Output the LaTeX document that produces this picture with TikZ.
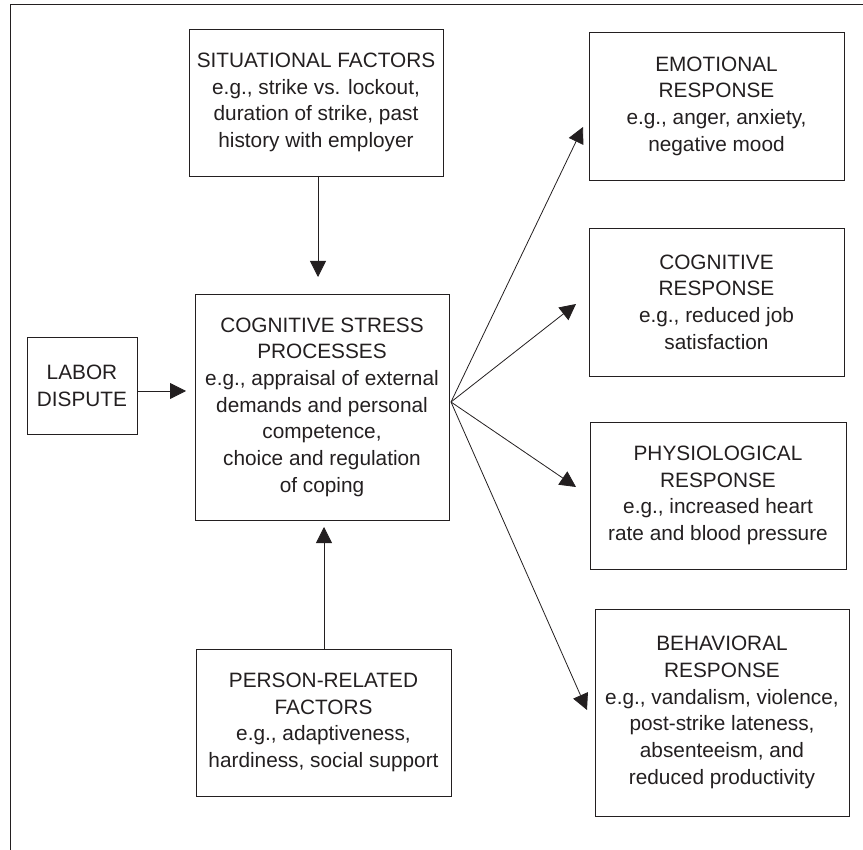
\documentclass[tikz,border=0pt]{standalone}
\usepackage{fontspec}
\setmainfont{Liberation Sans}
\usetikzlibrary{arrows.meta}
\definecolor{ink}{HTML}{231F20}
\tikzset{
  box/.style={draw=ink, line width=0.9pt, inner sep=0pt, align=center, text=ink,
    font=\fontsize{20.8}{26.7}\selectfont},
  arr/.style={draw=ink, line width=0.8pt, -{Triangle[length=16pt,width=16pt]}},
  frame/.style={draw=ink, line width=1pt}
}
\begin{document}
\begin{tikzpicture}[x=1pt,y=-1pt]
\useasboundingbox (0,0) rectangle (863,850);
% outer frame (top and left edges)
\coordinate (ftr) at (863,5);
\coordinate (ftl) at (10,5);
\coordinate (fbl) at (10,850);
\draw[frame] (ftr) -- (ftl) -- (fbl);

\node[box, minimum width=254, minimum height=147] (sit) at (316,102.5)
  {SITUATIONAL FACTORS\\e.g., strike vs. lockout,\\duration of strike, past\\history with employer};
\node[box, minimum width=110, minimum height=97] (labor) at (82,385.5)
  {LABOR\\DISPUTE};
\node[box, minimum width=254, minimum height=226] (csp) at (322,407)
  {COGNITIVE STRESS\\PROCESSES\\e.g., appraisal of external\\demands and personal\\competence,\\choice and regulation\\of coping};
\node[box, minimum width=255, minimum height=147] (person) at (323.5,722.5)
  {PERSON-RELATED\\FACTORS\\e.g., adaptiveness,\\hardiness, social support};
\node[box, minimum width=255, minimum height=148] (emo) at (716.5,106)
  {EMOTIONAL\\RESPONSE\\e.g., anger, anxiety,\\negative mood};
\node[box, minimum width=255, minimum height=148] (cog) at (716.5,302)
  {COGNITIVE\\RESPONSE\\e.g., reduced job\\satisfaction};
\node[box, minimum width=256, minimum height=147] (phys) at (718,495.5)
  {PHYSIOLOGICAL\\RESPONSE\\e.g., increased heart\\rate and blood pressure};
\node[box, minimum width=254, minimum height=207] (beh) at (722,712.5)
  {BEHAVIORAL\\RESPONSE\\e.g., vandalism, violence,\\post-strike lateness,\\absenteeism, and\\reduced productivity};

% arrow end points
\coordinate (sitout) at (318,176);
\coordinate (csptop) at (318,277);
\coordinate (laborout) at (137,391);
\coordinate (cspleft) at (186,391);
\coordinate (personout) at (324,649);
\coordinate (cspbottom) at (324,527);
\coordinate (fan) at (451,402);
\coordinate (emoin) at (583,127);
\coordinate (cogin) at (576,304);
\coordinate (physin) at (576,487);
\coordinate (behin) at (587,710);

\draw[arr] (sitout) -- (csptop);
\draw[arr] (laborout) -- (cspleft);
\draw[arr] (personout) -- (cspbottom);
\draw[arr] (fan) -- (emoin);
\draw[arr] (fan) -- (cogin);
\draw[arr] (fan) -- (physin);
\draw[arr] (fan) -- (behin);
\end{tikzpicture}
\end{document}
